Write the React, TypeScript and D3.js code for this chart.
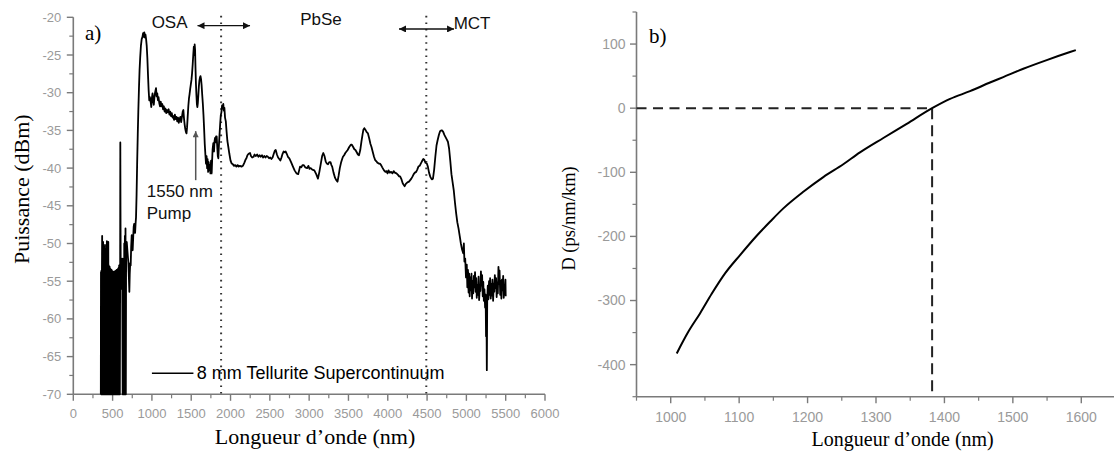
import React from 'react';
import * as d3 from 'd3';

type Pt = [number, number];

// ---------- Panel a: supercontinuum spectrum (wavelength nm, power dBm) ----------
const spectrumBlock: Pt[] = [
  [350,-70],[352,-53.8],[355,-70],[358,-53.6],[361,-70],[364,-53.9],[367,-49],[370,-70],[373,-51.5],[376,-70],
  [379,-49.8],[382,-70],[385,-51.2],[388,-70],[391,-50.5],[394,-70],[397,-51.8],[400,-70],[403,-50.2],[406,-70],
  [409,-52.4],[412,-70],[415,-50.8],[418,-70],[421,-52],[424,-70],[427,-49.7],[430,-70],[433,-51.6],[436,-70],
  [439,-52.6],[442,-70],[445,-49.8],[448,-70],[451,-52.9],[454,-70],[457,-53.3],[460,-70],[463,-53.1],[466,-70],
  [469,-53.6],[472,-70],[475,-53.4],[478,-70],[481,-53.8],[484,-70],[487,-53.5],[490,-70],[493,-54],[496,-70],
  [499,-53.7],[502,-70],[505,-54.1],[508,-70],[511,-53.8],[514,-70],[517,-54],[520,-70],[523,-53.7],[526,-70],
  [529,-54.2],[532,-70],[535,-53.9],[538,-70],[541,-53.6],[544,-70],[547,-53.9],[550,-70],[553,-53.5],[556,-70],
  [559,-53.8],[562,-70],[565,-53.4],[568,-70],[571,-53.6],[574,-70],[577,-53.2],[580,-70],[583,-52.9],[586,-70],
  [589,-55],[592,-70],[596,-53.8],[598,-36.6],[600,-45],[604,-56],[610,-53],[616,-55],[622,-52],[628,-70],
  [632,-54],[636,-70],[640,-52],[644,-70],[648,-50],[652,-70],[656,-49],[660,-70],[664,-48],[668,-70],
];

const spectrumOSA: Pt[] = [
  [672,-50],[680,-49.8],[690,-51.2],[700,-52.5],[707,-54.5],[713,-56.4],[718,-54],[724,-52.6],[730,-52.9],[736,-50.5],
  [743,-48.9],[750,-50.2],[755,-50.9],[762,-49.2],[768,-47.8],[774,-47.4],[780,-48.3],[786,-48.6],[792,-47.4],[798,-46.5],
  [805,-43.5],[812,-39.5],[820,-35.5],[827,-32.5],[835,-29.5],[843,-27],[851,-25.3],[860,-23.8],[870,-22.9],[880,-22.6],
  [888,-22.1],[895,-22.6],[903,-22],[911,-22.7],[918,-22.3],[926,-22.9],[934,-23.8],[942,-25.4],[950,-27.6],[958,-29.6],
  [966,-31],[974,-30.6],[984,-31.2],[992,-31.9],[1000,-30.7],[1008,-30.1],[1016,-31],[1024,-31.6],[1032,-30.6],[1040,-30],
  [1052,-29.4],[1060,-30.5],[1068,-30.1],[1076,-31],[1084,-30.6],[1094,-31.4],[1103,-31.8],[1112,-31.2],[1122,-31.8],[1132,-31.5],
  [1142,-32.2],[1152,-31.8],[1162,-32.5],[1172,-32.1],[1182,-32.7],[1192,-32.3],[1203,-32.6],[1213,-32.2],[1223,-32.9],[1233,-32.5],
  [1243,-33.1],[1253,-32.7],[1263,-33.3],[1272,-33.1],[1282,-33.6],[1292,-32.9],[1302,-33.5],[1312,-33.2],[1322,-33.8],[1332,-33.3],
  [1342,-34],[1352,-33.5],[1362,-33.2],[1372,-33.9],[1382,-33.2],[1392,-32.5],[1400,-32.3],[1408,-33.4],[1416,-34.2],[1424,-34.8],
  [1432,-35.2],[1440,-35.4],[1447,-34.6],[1455,-33.2],[1463,-31.8],[1471,-30.8],[1479,-30.2],[1487,-29.5],[1495,-28.9],[1503,-28.3],
  [1511,-27.4],[1519,-26.2],[1527,-24.8],[1533,-23.9],[1539,-25],[1544,-23.6],[1549,-24.3],[1554,-26.6],[1560,-28.8],[1566,-30.3],
  [1572,-31.5],[1578,-31.9],[1584,-31.4],[1590,-30.4],[1597,-29.2],[1604,-28.4],[1611,-28],[1618,-27.8],[1625,-28.2],[1632,-29],
  [1640,-30.3],[1648,-31.5],[1656,-33],[1664,-34.8],[1672,-36.8],[1680,-38.2],[1688,-39.4],[1695,-38.4],[1702,-40],[1708,-38.8],
  [1715,-40.5],[1722,-39.2],[1730,-40.3],[1737,-39.6],[1744,-40.7],[1752,-39],[1760,-40.7],[1766,-39],[1772,-37.5],[1781,-36.7],
  [1790,-37.8],[1796,-36.5],[1803,-36],[1810,-36.6],[1816,-35.8],[1824,-35.8],[1830,-37],[1838,-38.4],[1845,-38.7],[1852,-37],
  [1860,-35.6],[1868,-34.2],[1876,-33],[1884,-32.6],[1892,-31.7],[1900,-32.1],[1908,-31.5],[1915,-32.4],[1922,-32],[1930,-33.3],
];

const spectrumMid: Pt[] = [
  [1940,-33.8],[1950,-35.2],[1960,-36.4],[1972,-37.2],[1985,-38.1],[2000,-39],[2015,-39.4],[2030,-39.5],[2045,-39.7],[2060,-39.6],
  [2075,-39.8],[2090,-39.6],[2105,-39.8],[2120,-39.7],[2140,-39.8],[2157,-39.7],[2175,-39.3],[2190,-38.9],[2202,-38.7],[2215,-38.3],
  [2230,-38.1],[2248,-38],[2260,-38.4],[2275,-38.6],[2293,-38.5],[2305,-38.2],[2320,-38.4],[2338,-38.2],[2355,-38.5],[2370,-38.3],
  [2384,-38.5],[2400,-38.3],[2415,-38.6],[2430,-38.4],[2445,-38.6],[2460,-38.4],[2475,-38.5],[2490,-38.7],[2505,-38.6],[2520,-38.8],
  [2535,-38.6],[2550,-38.1],[2563,-37.7],[2575,-37.6],[2590,-38.2],[2605,-38.6],[2620,-38.8],[2634,-39],[2648,-38.6],[2662,-38.1],
  [2675,-37.8],[2690,-37.9],[2702,-37.8],[2715,-38.1],[2730,-38.5],[2748,-38.7],[2770,-39.2],[2794,-39.8],[2815,-40.3],[2839,-40.7],
  [2861,-40.8],[2875,-40.2],[2884,-39.8],[2900,-39.9],[2915,-39.6],[2930,-39.6],[2950,-39.9],[2975,-40],[2990,-39.7],[3005,-40.1],
  [3020,-40],[3040,-40.2],[3066,-40.3],[3090,-40.8],[3112,-41.4],[3130,-40.5],[3150,-39.3],[3165,-38.4],[3180,-38],[3195,-38.4],
  [3210,-39.1],[3225,-39.4],[3240,-39.5],[3255,-39.2],[3271,-39.2],[3283,-39.6],[3293,-39.8],[3310,-40.6],[3330,-41.3],[3345,-41.6],
  [3361,-41.8],[3375,-41],[3390,-40],[3405,-39.3],[3420,-38.8],[3430,-38.5],[3445,-38.3],[3460,-38],[3475,-37.8],[3490,-37.6],
  [3510,-37.2],[3530,-36.9],[3543,-36.9],[3560,-37.2],[3575,-37.5],[3589,-37.6],[3605,-37.9],[3620,-38.2],[3634,-38.3],[3650,-37.6],
  [3665,-36.5],[3680,-35.5],[3690,-34.9],[3702,-34.7],[3715,-34.9],[3730,-35.2],[3748,-35.4],[3765,-36.1],[3780,-36.8],[3793,-37.2],
  [3810,-37.9],[3825,-38.5],[3838,-38.9],[3855,-39.1],[3870,-39.3],[3884,-39.4],[3900,-39.4],[3915,-39.6],[3930,-39.9],[3952,-40.3],
  [3970,-40.5],[3985,-40.4],[3997,-40.7],[4010,-40.3],[4025,-40.6],[4043,-40.5],[4060,-40.7],[4075,-40.4],[4090,-40.6],[4111,-40.7],
  [4130,-40.9],[4145,-41.1],[4157,-41.1],[4175,-41.5],[4190,-42],[4202,-42.2],[4215,-42.4],[4230,-42.1],[4250,-41.9],[4270,-41.8],
  [4285,-41.6],[4300,-41.4],[4316,-41.1],[4330,-40.8],[4345,-40.6],[4361,-40.5],[4375,-40.2],[4390,-39.8],[4406,-39.7],[4420,-39.4],
  [4435,-39.1],[4452,-38.8],[4465,-38.9],[4480,-39.3],[4497,-39.4],[4510,-39.8],[4525,-40.6],[4543,-41.2],[4560,-41.5],[4575,-41.4],
  [4590,-40.2],[4605,-38.5],[4620,-37],[4634,-36.3],[4650,-35.6],[4665,-35.1],[4679,-35],[4690,-35],[4705,-35.2],[4720,-35.6],
  [4735,-35.9],[4750,-36.2],[4765,-36.5],[4780,-37.4],[4795,-39],[4810,-40.8],[4825,-41.9],[4840,-43],[4855,-44.6],[4870,-46],
  [4885,-47.2],[4900,-48],[4915,-49],[4930,-50],[4945,-50.8],[4960,-51.3],
];

const spectrumTail: Pt[] = [
  [4968,-50],[4975,-52.4],[4985,-52],[4995,-54.5],[5005,-52.8],[5012,-55.8],[5020,-53.5],[5028,-56.5],[5035,-54],[5042,-57],
  [5050,-54.5],[5058,-56.2],[5065,-54],[5072,-57.3],[5080,-55],[5088,-56.6],[5095,-54.3],[5102,-55.8],[5110,-53.8],[5118,-56.4],
  [5125,-54.6],[5132,-57.2],[5140,-55.5],[5148,-56.8],[5155,-54.4],[5162,-57.5],[5170,-55.8],[5178,-56.3],[5185,-53.7],[5192,-55.6],
  [5200,-54.2],[5208,-57],[5215,-55.1],[5222,-57.6],[5230,-56.1],[5238,-58.5],[5245,-56.8],[5250,-62.3],[5255,-58],[5260,-66.8],
  [5265,-57.5],[5272,-55.6],[5280,-57.4],[5288,-55],[5295,-56.8],[5302,-54.6],[5310,-57.3],[5318,-55.4],[5325,-56.9],[5332,-54.8],
  [5340,-57.6],[5348,-55.3],[5355,-56.4],[5362,-54.2],[5370,-55.9],[5378,-54.6],[5385,-57.1],[5392,-55.2],[5400,-56.6],[5408,-53.1],
  [5415,-55.4],[5422,-53.6],[5430,-56.8],[5438,-55],[5445,-57.3],[5452,-54.8],[5460,-56.2],[5468,-54.3],[5475,-57.2],[5482,-55.5],
  [5490,-56.1],[5497,-54.8],[5500,-57],
];

const aXTicks = [0, 500, 1000, 1500, 2000, 2500, 3000, 3500, 4000, 4500, 5000, 5500, 6000];
const aYTicks = [-20, -25, -30, -35, -40, -45, -50, -55, -60, -65, -70];
const detectorLimits = [1880, 4490];
const pumpWavelength = 1557;

// ---------- Panel b: dispersion (wavelength nm, D ps/nm/km) ----------
const dispersion: Pt[] = [
  [1008.8,-382.5],[1025.7,-348.8],[1042.8,-320.1],[1059.9,-289.5],[1079.4,-257.7],[1101.3,-229.2],[1125.7,-199],
  [1145.1,-177.2],[1164.6,-156.3],[1193.8,-130.4],[1223,-107.5],[1252.2,-87.5],[1276.6,-69],[1310.7,-46.5],
  [1344.9,-24.5],[1382,0],[1408.2,14.5],[1437.4,26.5],[1466.6,40],[1486,48.5],[1515.3,61.5],[1549.5,75],
  [1583.5,87.5],[1592,90.5],
];
const bXTicks = [1000, 1100, 1200, 1300, 1400, 1500, 1600];
const bYTicks = [100, 0, -100, -200, -300, -400];
const zeroDispersionWl = 1382;

const W = 1114, H = 452;
const SANS = "'Liberation Sans', Arial, Helvetica, sans-serif";
const SERIF = "'Liberation Serif', 'Times New Roman', Times, serif";
const AXIS = '#7a7a7a';
const TICKTXT = '#9a9a9a';

export default function App() {
  const xA = d3.scaleLinear().domain([0, 6000]).range([73.3, 545]);
  const yA = d3.scaleLinear().domain([-70, -20]).range([394.3, 17.3]);
  const xB = d3.scaleLinear().domain([950, 1650]).range([636.5, 1115.5]);
  const yB = d3.scaleLinear().domain([-450, 150]).range([396.7, 12]);

  const lineA = d3.line<Pt>().x(d => xA(d[0])).y(d => yA(d[1]));
  const lineB = d3.line<Pt>().x(d => xB(d[0])).y(d => yB(d[1])).curve(d3.curveMonotoneX);
  const spectrum = [...spectrumBlock, ...spectrumOSA, ...spectrumMid, ...spectrumTail];

  const aXMinor = d3.range(250, 6000, 500);
  const aYMinor = d3.range(-67.5, -20, 5);
  const bXMinor = d3.range(950, 1651, 100);
  const bYMinor = d3.range(-450, 151, 100);

  const ax0 = xA(0), ay0 = yA(-70);
  const bx0 = xB(950), by0 = yB(-450);

  return (
    <svg width={W} height={H} style={{ position: 'absolute', left: 0, top: 0, background: '#fff' }}>
      <defs>
        <marker id="ahBlack" viewBox="0 0 10 10" refX="10" refY="5" markerWidth="9" markerHeight="7"
          markerUnits="userSpaceOnUse" orient="auto-start-reverse">
          <path d="M0,0 L10,5 L0,10 z" fill="#111" />
        </marker>
        <marker id="ahGray" viewBox="0 0 10 10" refX="10" refY="5" markerWidth="9" markerHeight="6"
          markerUnits="userSpaceOnUse" orient="auto">
          <path d="M0,0 L10,5 L0,10 z" fill="#555" />
        </marker>
      </defs>
      <rect width={W} height={H} fill="#fff" />

      {/* ================= Panel a ================= */}
      <g>
        <line x1={ax0} x2={ax0} y1={yA(-20)} y2={ay0} stroke={AXIS} strokeWidth={1.6} />
        <line x1={ax0} x2={xA(6000)} y1={ay0} y2={ay0} stroke={AXIS} strokeWidth={1.6} />
        {aYTicks.map(t => (
          <g key={'ay' + t}>
            <line x1={ax0 - 6.5} x2={ax0} y1={yA(t)} y2={yA(t)} stroke={AXIS} strokeWidth={1.4} />
            <text x={ax0 - 12} y={yA(t)} dy="0.35em" textAnchor="end" fontFamily={SANS} fontSize={13} fill={TICKTXT}>{String(t)}</text>
          </g>
        ))}
        {aYMinor.map(t => (
          <line key={'aym' + t} x1={ax0 - 4} x2={ax0} y1={yA(t)} y2={yA(t)} stroke={AXIS} strokeWidth={1.2} />
        ))}
        {aXTicks.map(t => (
          <g key={'ax' + t}>
            <line x1={xA(t)} x2={xA(t)} y1={ay0} y2={ay0 + 6.5} stroke={AXIS} strokeWidth={1.4} />
            <text x={xA(t)} y={ay0 + 24} textAnchor="middle" fontFamily={SANS} fontSize={13} fill={TICKTXT}>{String(t)}</text>
          </g>
        ))}
        {aXMinor.map(t => (
          <line key={'axm' + t} x1={xA(t)} x2={xA(t)} y1={ay0} y2={ay0 + 4} stroke={AXIS} strokeWidth={1.2} />
        ))}

        {detectorLimits.map(w => (
          <line key={'dl' + w} x1={xA(w)} x2={xA(w)} y1={yA(-19.8)} y2={ay0} stroke="#333" strokeWidth={2}
            strokeDasharray="1.6,5" />
        ))}

        <path d={lineA(spectrum) || ''} fill="none" stroke="#000" strokeWidth={1.8} strokeLinejoin="round" />

        <text x={xA(1225)} y={yA(-21.46)} textAnchor="middle" fontFamily={SANS} fontSize={17} fill="#111">OSA</text>
        <text x={xA(3151)} y={yA(-21.02)} textAnchor="middle" fontFamily={SANS} fontSize={17} fill="#111">PbSe</text>
        <text x={xA(5072)} y={yA(-21.6)} textAnchor="middle" fontFamily={SANS} fontSize={17} fill="#111">MCT</text>
        <line x1={xA(1580)} x2={xA(2248)} y1={yA(-21.11)} y2={yA(-21.11)} stroke="#111" strokeWidth={1.4}
          markerStart="url(#ahBlack)" markerEnd="url(#ahBlack)" />
        <line x1={xA(4143)} x2={xA(4843)} y1={yA(-21.55)} y2={yA(-21.55)} stroke="#111" strokeWidth={1.4}
          markerStart="url(#ahBlack)" markerEnd="url(#ahBlack)" />

        <line x1={xA(pumpWavelength)} x2={xA(pumpWavelength)} y1={yA(-41.6)} y2={yA(-35.1)} stroke="#555"
          strokeWidth={1.5} markerEnd="url(#ahGray)" />
        <text x={xA(934)} y={yA(-43.8)} fontFamily={SANS} fontSize={17} fill="#111">1550 nm</text>
        <text x={xA(934)} y={yA(-46.8)} fontFamily={SANS} fontSize={17} fill="#111">Pump</text>

        <text x={85} y={40} fontFamily={SERIF} fontSize={21} fill="#000">a)</text>

        <line x1={xA(1000)} x2={xA(1528)} y1={yA(-67.2)} y2={yA(-67.2)} stroke="#000" strokeWidth={1.6} />
        <text x={xA(1570)} y={yA(-68.0)} fontFamily={SANS} fontSize={18} fill="#000">8 mm Tellurite Supercontinuum</text>

        <text x={xA(3075)} y={444} textAnchor="middle" fontFamily={SERIF} fontSize={22} fill="#000">Longueur d’onde (nm)</text>
        <text transform={`translate(29,${yA(-42.8)}) rotate(-90)`} textAnchor="middle" fontFamily={SERIF} fontSize={22} fill="#000">Puissance (dBm)</text>
      </g>

      {/* ================= Panel b ================= */}
      <g>
        <line x1={bx0} x2={bx0} y1={yB(150)} y2={by0} stroke={AXIS} strokeWidth={1.6} />
        <line x1={bx0} x2={W} y1={by0} y2={by0} stroke={AXIS} strokeWidth={1.6} />
        {bYTicks.map(t => (
          <g key={'by' + t}>
            <line x1={bx0 - 6.5} x2={bx0} y1={yB(t)} y2={yB(t)} stroke={AXIS} strokeWidth={1.4} />
            <text x={bx0 - 11} y={yB(t)} dy="0.35em" textAnchor="end" fontFamily={SANS} fontSize={14} fill={TICKTXT}>{String(t)}</text>
          </g>
        ))}
        {bYMinor.map(t => (
          <line key={'bym' + t} x1={bx0 - 4} x2={bx0} y1={yB(t)} y2={yB(t)} stroke={AXIS} strokeWidth={1.2} />
        ))}
        {bXTicks.map(t => (
          <g key={'bx' + t}>
            <line x1={xB(t)} x2={xB(t)} y1={by0} y2={by0 + 6.5} stroke={AXIS} strokeWidth={1.4} />
            <text x={xB(t)} y={by0 + 25} textAnchor="middle" fontFamily={SANS} fontSize={14} fill={TICKTXT}>{String(t)}</text>
          </g>
        ))}
        {bXMinor.map(t => (
          <line key={'bxm' + t} x1={xB(t)} x2={xB(t)} y1={by0} y2={by0 + 4} stroke={AXIS} strokeWidth={1.2} />
        ))}

        <line x1={bx0} x2={xB(zeroDispersionWl)} y1={yB(0)} y2={yB(0)} stroke="#222" strokeWidth={2} strokeDasharray="10,6.5" />
        <line x1={xB(zeroDispersionWl)} x2={xB(zeroDispersionWl)} y1={yB(0)} y2={by0} stroke="#222" strokeWidth={2} strokeDasharray="11,6" />

        <path d={lineB(dispersion) || ''} fill="none" stroke="#000" strokeWidth={2} strokeLinejoin="round" />

        <text x={649} y={43} fontFamily={SERIF} fontSize={21} fill="#000">b)</text>

        <text x={xB(1339)} y={446} textAnchor="middle" fontFamily={SERIF} fontSize={20} fill="#000">Longueur d’onde (nm)</text>
        <text transform={`translate(575,${yB(-172)}) rotate(-90)`} textAnchor="middle" fontFamily={SERIF} fontSize={18.5} fill="#000">D (ps/nm/km)</text>
      </g>
    </svg>
  );
}
